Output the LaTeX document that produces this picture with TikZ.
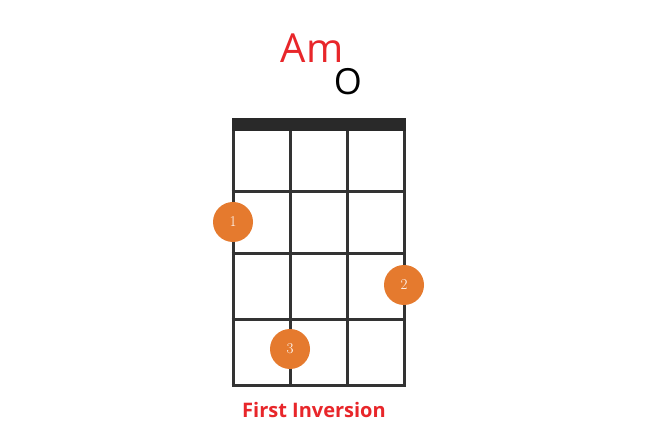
\documentclass[tikz,border=0pt]{standalone}
\usepackage{fontspec}
\setsansfont{Open Sans}
\definecolor{dotc}{HTML}{E57A2E}
\definecolor{redc}{HTML}{E8262A}
\definecolor{gridc}{HTML}{333333}
\tikzset{gridline/.style={draw=gridc,line width=3pt},
 finger/.style={circle,fill=dotc,minimum size=40pt,inner sep=0pt,text=white,font=\fontsize{15}{15}\selectfont}}
\begin{document}
\begin{tikzpicture}[x=1pt,y=-1pt]
\useasboundingbox (0,0) rectangle (670,430);
\fill[white] (0,0) rectangle (670,430);
\foreach \x in {233,290,347,404} \draw[gridline] (\x,124) -- (\x,386);
\foreach \y in {192,254,320,386} \draw[gridline] (231.5,\y) -- (405.5,\y);
\fill[gridc!80!black] (231.5,118) rectangle (405.5,131);
\node[finger] (d1) at (233,222) {1};
\node[finger] (d2) at (404,285) {2};
\node[finger] (d3) at (290,349) {3};
\node[text=redc,font=\sffamily\fontsize{40}{40}\selectfont] (am) at (312,48) {Am};
\node[font=\sffamily\fontsize{36}{36}\selectfont] (o) at (348,82) {O};
\node[text=redc,font=\sffamily\bfseries\fontsize{20}{20}\selectfont] (t) at (314,410) {First Inversion};
\end{tikzpicture}
\end{document}
